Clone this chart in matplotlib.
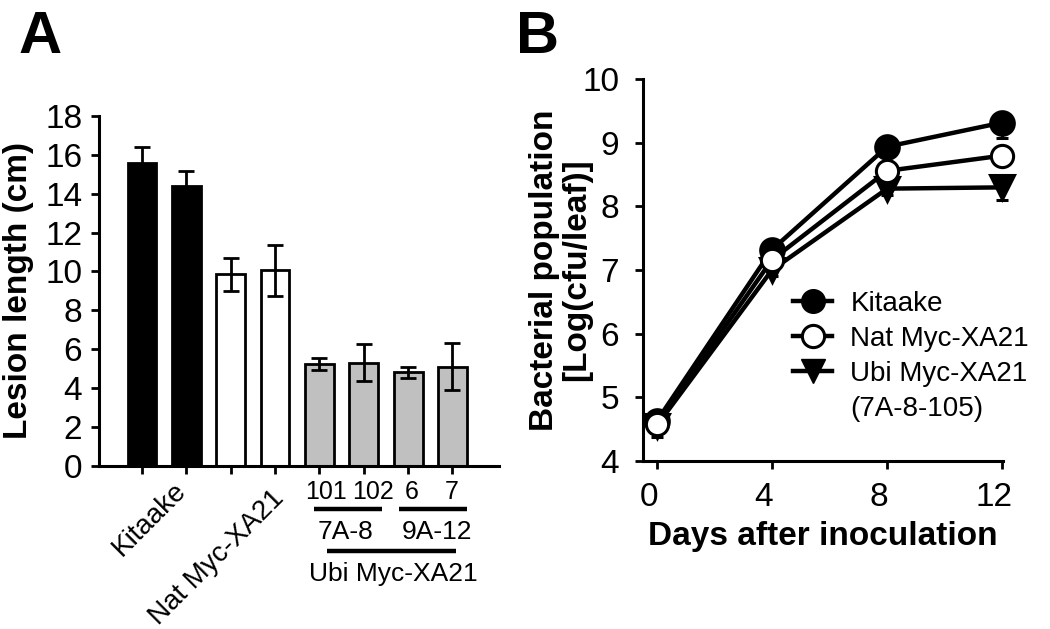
import matplotlib
matplotlib.use('Agg')
import matplotlib.pyplot as plt
import matplotlib.transforms as mtransforms
from matplotlib import font_manager
from matplotlib.lines import Line2D

# ---------------- data ----------------
# Panel A: lesion length
bar_groups = ['Kitaake', 'Kitaake', 'Nat Myc-XA21', 'Nat Myc-XA21',
              'Ubi Myc-XA21', 'Ubi Myc-XA21', 'Ubi Myc-XA21', 'Ubi Myc-XA21']
line_ids = ['', '', '', '', '101', '102', '6', '7']
sub_lines = ['7A-8', '9A-12']
lesion_mean = [15.6, 14.4, 9.85, 10.05, 5.25, 5.3, 4.8, 5.1]
lesion_err = [0.8, 0.75, 0.85, 1.3, 0.3, 0.95, 0.3, 1.2]
bar_colors = ['black', 'black', 'white', 'white',
              '#c0c0c0', '#c0c0c0', '#c0c0c0', '#c0c0c0']
a_yticks = [0, 2, 4, 6, 8, 10, 12, 14, 16, 18]

# Panel B: bacterial population
days = [0, 4, 8, 12]
kitaake = [4.62, 7.32, 8.94, 9.32]
kitaake_err = [0.1, 0.1, 0.1, 0.24]
nat = [4.58, 7.16, 8.56, 8.80]
nat_err = [0.1, 0.1, 0.1, 0.1]
ubi = [4.55, 7.0, 8.28, 8.30]
ubi_err = [0.18, 0.1, 0.1, 0.2]
b_yticks = [4, 5, 6, 7, 8, 9, 10]
b_xticks = [0, 4, 8, 12]

# ---------------- fonts ----------------
avail = {f.name for f in font_manager.fontManager.ttflist}
MAIN = 'Liberation Sans'
NARROW = 'Liberation Sans Narrow' if 'Liberation Sans Narrow' in avail else MAIN
plt.rcParams['font.family'] = [MAIN, 'DejaVu Sans']

W, H = 1050, 629
fig = plt.figure(figsize=(W / 100, H / 100), dpi=100)

def ax_rect(x0, x1, ytop, ybot):
    return [x0 / W, 1 - ybot / H, (x1 - x0) / W, (ybot - ytop) / H]

# ================= Panel A =================
axA = fig.add_axes(ax_rect(99, 499, 116, 465.7))
xs = list(range(len(lesion_mean)))
axA.bar(xs, lesion_mean, width=0.65, color=bar_colors, edgecolor='black',
        linewidth=2.0, zorder=2)
axA.errorbar(xs, lesion_mean, yerr=lesion_err, fmt='none', ecolor='black',
             elinewidth=2.0, capsize=5.5, capthick=2.0, zorder=3)
axA.set_xlim(-0.97, 8.05)
axA.set_ylim(0, 18)
axA.set_yticks(a_yticks)
axA.set_xticks(xs)
axA.set_xticklabels([])
for s in ['top', 'right']:
    axA.spines[s].set_visible(False)
for s in ['left', 'bottom']:
    axA.spines[s].set_linewidth(2.2)
axA.tick_params(axis='y', direction='out', length=6, width=2.0,
                labelsize=24, pad=6)
axA.tick_params(axis='x', direction='out', length=6, width=2.0)
axA.set_ylabel('Lesion length (cm)', fontsize=24, fontweight='bold')
axA.yaxis.set_label_coords(-0.163, 0.5)

trA = mtransforms.blended_transform_factory(axA.transData, axA.transAxes)
small = 18 if NARROW == MAIN else 20
# rotated group labels
axA.text(0.90, -0.061, bar_groups[0], transform=trA, rotation=45,
         rotation_mode='anchor', ha='right', va='center', fontsize=20,
         family=NARROW)
axA.text(3.11, -0.081, bar_groups[2], transform=trA, rotation=45,
         rotation_mode='anchor', ha='right', va='center', fontsize=20,
         family=NARROW)
# line ids under gray bars
id_shift = [0, 0, 0, 0, 0.15, 0.21, 0.07, -0.01]
for i in range(4, 8):
    axA.text(i + id_shift[i], -0.074, line_ids[i], transform=trA, ha='center',
             va='center', fontsize=small, family=NARROW)
# underline bars and sub labels
axA.plot([3.88, 5.41], [-0.124, -0.124], transform=trA, color='black',
         lw=3.2, clip_on=False, solid_capstyle='butt')
axA.plot([5.80, 7.33], [-0.124, -0.124], transform=trA, color='black',
         lw=3.2, clip_on=False, solid_capstyle='butt')
axA.text(4.58, -0.19, sub_lines[0], transform=trA, ha='center', va='center',
         fontsize=small + 1, family=NARROW)
axA.text(6.65, -0.19, sub_lines[1], transform=trA, ha='center', va='center',
         fontsize=small + 1, family=NARROW)
axA.plot([4.17, 7.08], [-0.244, -0.244], transform=trA, color='black',
         lw=3.2, clip_on=False, solid_capstyle='butt')
axA.text(5.66, -0.31, bar_groups[4], transform=trA, ha='center', va='center',
         fontsize=small + 1, family=NARROW)

# ================= Panel B =================
axB = fig.add_axes(ax_rect(642.7, 1003.3, 79.3, 460.7))
lw = 3.2
ms = 17
zero = [0, 0, 0, 0]
series = [
    (ubi, ubi_err, 'v', 'black', 3),
    (kitaake, kitaake_err, 'o', 'black', 4),
    (nat, nat_err, 'o', 'white', 5),
]
for vals, errs, mk, fc, z in series:
    cont = axB.errorbar(days, vals, yerr=[errs, zero], color='black', lw=lw,
                        marker=mk, markersize=ms if fc == 'black' else ms - 1,
                        mfc=fc, mec='black', mew=2.2, capsize=4, capthick=2,
                        elinewidth=2, zorder=z)
    for art in cont.get_children():
        art.set_clip_on(False)
axB.set_xlim(-0.486, 12.03)
axB.set_ylim(4, 10)
axB.set_yticks(b_yticks)
axB.set_xticks(b_xticks)
for s in ['top', 'right']:
    axB.spines[s].set_visible(False)
for s in ['left', 'bottom']:
    axB.spines[s].set_linewidth(2.2)
    axB.spines[s].set_zorder(1)
axB.tick_params(axis='y', direction='out', length=6, width=2.0,
                labelsize=24, pad=11)
axB.tick_params(axis='x', direction='out', length=6, width=2.0,
                labelsize=24, pad=9)
off = mtransforms.ScaledTranslation(-8 / 100, 0, fig.dpi_scale_trans)
for lab in axB.get_xticklabels():
    lab.set_transform(lab.get_transform() + off)
axB.set_xlabel('Days after inoculation', fontsize=24, fontweight='bold',
               labelpad=6)
axB.set_ylabel('Bacterial population\n[Log(cfu/leaf)]', fontsize=24,
               fontweight='bold', linespacing=1.05)
axB.yaxis.set_label_coords(-0.14, 0.5)

handles = [
    Line2D([], [], color='black', lw=lw, marker='o', markersize=ms,
           mfc='black', mec='black'),
    Line2D([], [], color='black', lw=lw, marker='o', markersize=ms - 1,
           mfc='white', mec='black', mew=2.2),
    Line2D([], [], color='black', lw=lw, marker='v', markersize=ms,
           mfc='black', mec='black'),
    Line2D([], [], linestyle='none', marker=None),
]
labels = ['Kitaake', 'Nat Myc-XA21', 'Ubi Myc-XA21', '(7A-8-105)']
axB.legend(handles, labels, loc='upper left', bbox_to_anchor=(0.418, 0.445),
           frameon=False, fontsize=20, handlelength=1.4, handletextpad=0.65,
           labelspacing=0.32, borderpad=0, borderaxespad=0)

# panel letters
fig.text(19 / W, 1 - 53 / H, 'A', fontsize=43, fontweight='bold',
         ha='left', va='baseline')
fig.text(516 / W, 1 - 53 / H, 'B', fontsize=43, fontweight='bold',
         ha='left', va='baseline')

fig.savefig('out.png', dpi=100)
